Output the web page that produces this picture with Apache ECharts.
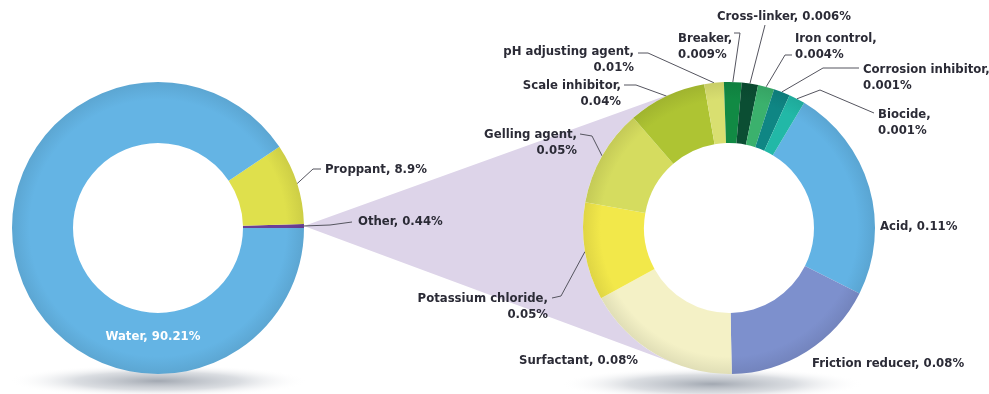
<!DOCTYPE html>
<html>
<head>
<meta charset="utf-8">
<script src="https://cdn.jsdelivr.net/npm/echarts@6/dist/echarts.min.js"></script>
<style>
  html, body { margin: 0; padding: 0; background: #ffffff; }
  #chart { width: 989px; height: 394px; }
</style>
</head>
<body>
<div id="chart"></div>
<script>
// Make-up of a fracturing fluid, percent by volume
const fluidNames = ['Other', 'Proppant', 'Water'];
const fluidValues = [0.44, 8.9, 90.21];

// Break-down of the "Other" additives, percent by volume
const additiveNames = [
  'Acid', 'Friction reducer', 'Surfactant', 'Potassium chloride', 'Gelling agent',
  'Scale inhibitor', 'pH adjusting agent', 'Breaker', 'Cross-linker', 'Iron control',
  'Corrosion inhibitor', 'Biocide'
];
const additiveValues = [0.11, 0.08, 0.08, 0.05, 0.05, 0.04, 0.01, 0.009, 0.006, 0.004, 0.001, 0.001];

// Slice colours
const fluidColors = ['#6b3f98', '#dfe04c', '#64b4e4'];
const additiveColors = [
  '#62b3e4', '#7d90cd', '#f4f1c6', '#f2e84a', '#d5dc5f', '#aec433',
  '#d9df70', '#118a44', '#0b4e33', '#3bb16d', '#0f8684', '#22b8a7'
];

// Ring geometry
const leftRing = { cx: 158, cy: 228, r0: 85, r: 146 };
const rightRing = { cx: 729, cy: 228, r0: 85, r: 146 };

// Where each label sits, and the elbow/end of its leader line
const labelSpots = {
  'Water':               { x: 153, y: 337, align: 'center', color: '#ffffff' },
  'Proppant':            { x: 325, y: 170, align: 'left',  line: [[313, 169], [321, 169]] },
  'Other':               { x: 358, y: 222, align: 'left',  line: [[330, 225], [352, 222]] },
  'Acid':                { x: 880, y: 227, align: 'left' },
  'Friction reducer':    { x: 812, y: 364, align: 'left' },
  'Surfactant':          { x: 638, y: 361, align: 'right' },
  'Potassium chloride':  { x: 548, y: 307, align: 'right', wrap: true, line: [[561, 296], [552, 298]] },
  'Gelling agent':       { x: 577, y: 143, align: 'right', wrap: true, line: [[592, 136], [580, 134]] },
  'Scale inhibitor':     { x: 621, y: 94,  align: 'right', wrap: true, line: [[636, 85], [624, 85]] },
  'pH adjusting agent':  { x: 634, y: 60,  align: 'right', wrap: true, line: [[648, 53], [638, 53]] },
  'Breaker':             { x: 678, y: 47,  align: 'left',  wrap: true, line: [[740, 33], [734, 33]] },
  'Cross-linker':        { x: 717, y: 17,  align: 'left',  line: [[765, 25], [765, 25]] },
  'Iron control':        { x: 795, y: 47,  align: 'left',  wrap: true, line: [[785, 55], [792, 55]] },
  'Corrosion inhibitor': { x: 863, y: 78,  align: 'left',  wrap: true, line: [[823, 68], [859, 68]] },
  'Biocide':             { x: 878, y: 123, align: 'left',  wrap: true, line: [[820, 90], [874, 113]] }
};

const FONT = '"Liberation Sans Narrow", "DejaVu Sans Condensed", "Arial Narrow", sans-serif';
const INK = '#2b2b36';

function darken(hex, k) {
  const n = parseInt(hex.slice(1), 16);
  const c = [(n >> 16) & 255, (n >> 8) & 255, n & 255].map(v => Math.round(v * (1 - k)));
  return 'rgb(' + c.join(',') + ')';
}

// Soft rim shading so the rings read slightly rounded
function ringFill(base, ring) {
  return {
    type: 'radial', x: ring.cx, y: ring.cy, r: ring.r, global: true,
    colorStops: [
      { offset: ring.r0 / ring.r, color: base },
      { offset: 0.88, color: base },
      { offset: 1, color: darken(base, 0.08) }
    ]
  };
}

function buildData(names, values, colors, ring) {
  return names.map((name, i) => {
    const spot = labelSpots[name] || {};
    return {
      name: name,
      value: values[i],
      itemStyle: { color: ringFill(colors[i], ring) },
      label: spot.color ? { color: spot.color } : {},
      labelLine: { show: !!spot.line }
    };
  });
}

const chart = echarts.init(document.getElementById('chart'), null, { renderer: 'canvas' });

function placeLabel(seriesIndex, names) {
  return function (params) {
    const spot = labelSpots[names[params.dataIndex]];
    const out = { x: spot.x, y: spot.y, align: spot.align, verticalAlign: 'middle' };
    if (spot.line) {
      const lay = chart.getModel().getSeriesByIndex(seriesIndex).getData().getItemLayout(params.dataIndex);
      const mid = (lay.startAngle + lay.endAngle) / 2;
      const start = [lay.cx + lay.r * Math.cos(mid), lay.cy + lay.r * Math.sin(mid)];
      out.labelLinePoints = [start, spot.line[0], spot.line[1]];
    }
    return out;
  };
}

function labelText(names, values) {
  return function (p) {
    const spot = labelSpots[names[p.dataIndex]];
    const v = values[p.dataIndex] + '%';
    return p.name + (spot.wrap ? ',\n' : ', ') + v;
  };
}

// Lavender wedge fanning out from the "Other" slice to the right ring
function wedgePoints() {
  const total = fluidValues.reduce((a, b) => a + b, 0);
  const midDeg = fluidValues[0] / total * 360 / 2; // first slice, counter-clockwise from 3 o'clock
  const a = midDeg * Math.PI / 180;
  const ax = leftRing.cx + leftRing.r * Math.cos(a);
  const ay = leftRing.cy - leftRing.r * Math.sin(a);
  const dx = ax - rightRing.cx, dy = ay - rightRing.cy;
  const d = Math.hypot(dx, dy);
  const base = Math.atan2(dy, dx);
  const half = Math.acos(rightRing.r / d);
  const pts = [[ax, ay]];
  const steps = 48;
  for (let i = 0; i <= steps; i++) {
    const t = base + half - (2 * half) * i / steps;
    pts.push([rightRing.cx + rightRing.r * Math.cos(t), rightRing.cy + rightRing.r * Math.sin(t)]);
  }
  return pts;
}

function groundShadow(cx, cy, rx, flat) {
  return {
    type: 'circle', z: 0, silent: true,
    x: cx, y: cy, scaleY: flat,
    shape: { cx: 0, cy: 0, r: rx },
    style: {
      fill: {
        type: 'radial', x: 0.5, y: 0.5, r: 0.5,
        colorStops: [
          { offset: 0, color: 'rgba(105,115,130,0.62)' },
          { offset: 0.55, color: 'rgba(150,158,170,0.35)' },
          { offset: 1, color: 'rgba(255,255,255,0)' }
        ]
      }
    }
  };
}

const labelBase = {
  show: true,
  position: 'outside',
  fontFamily: FONT,
  fontWeight: 'bold',
  fontSize: 13,
  lineHeight: 16,
  color: INK
};

chart.setOption({
  backgroundColor: '#ffffff',
  animation: false,
  graphic: [
    groundShadow(leftRing.cx, 381, 150, 0.11),
    groundShadow(712, 384, 152, 0.11),
    {
      type: 'polygon', z: 1, silent: true,
      shape: { points: wedgePoints() },
      style: { fill: '#ddd4e9' }
    }
  ],
  series: [
    {
      type: 'pie',
      z: 3,
      center: [leftRing.cx, leftRing.cy],
      radius: [leftRing.r0, leftRing.r],
      startAngle: 0,
      clockwise: false,
      avoidLabelOverlap: false,
      label: Object.assign({}, labelBase, { formatter: labelText(fluidNames, fluidValues) }),
      labelLine: { show: true, lineStyle: { color: '#55555f', width: 1 } },
      labelLayout: placeLabel(0, fluidNames),
      emphasis: { disabled: true },
      data: buildData(fluidNames, fluidValues, fluidColors, leftRing)
    },
    {
      type: 'pie',
      z: 3,
      center: [rightRing.cx, rightRing.cy],
      radius: [rightRing.r0, rightRing.r],
      startAngle: 59,
      clockwise: true,
      minAngle: 6.5,
      avoidLabelOverlap: false,
      label: Object.assign({}, labelBase, { formatter: labelText(additiveNames, additiveValues) }),
      labelLine: { show: true, lineStyle: { color: '#55555f', width: 1 } },
      labelLayout: placeLabel(1, additiveNames),
      emphasis: { disabled: true },
      data: buildData(additiveNames, additiveValues, additiveColors, rightRing)
    }
  ]
});
</script>
</body>
</html>
